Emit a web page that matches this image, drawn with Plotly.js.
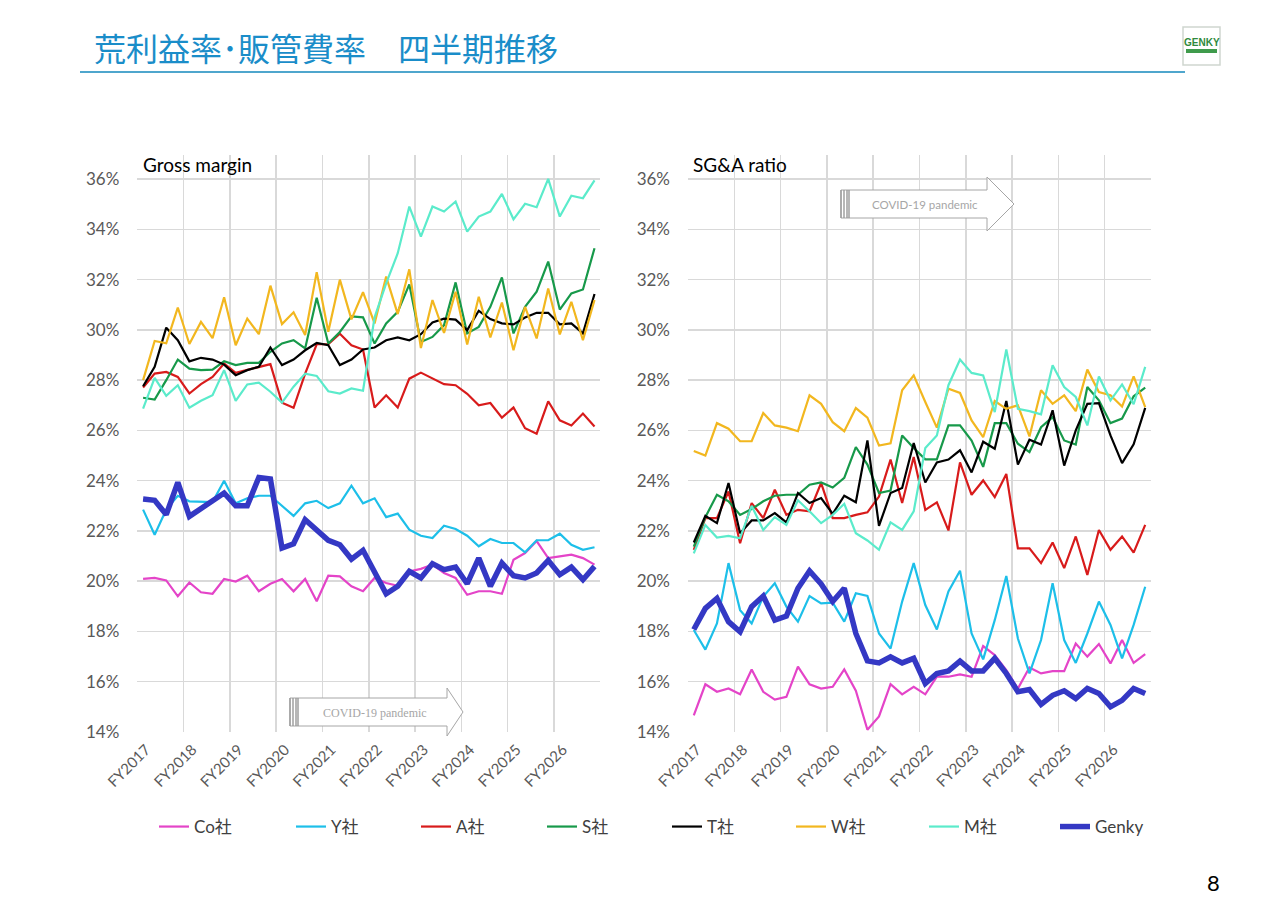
<!DOCTYPE html>
<html>
<head>
<meta charset="utf-8">
<script src="https://cdn.plot.ly/plotly-3.0.1.min.js"></script>
<style>
html, body { margin: 0; padding: 0; background: #ffffff; }
#chart { width: 1280px; height: 904px; }
</style>
</head>
<body>
<div id="chart"></div>
<script>
// fiscal years on the x axis, 4 quarters each
var fiscalYears = ['FY2017', 'FY2018', 'FY2019', 'FY2020', 'FY2021',
                   'FY2022', 'FY2023', 'FY2024', 'FY2025', 'FY2026'];
var quartersPerYear = 4;

var companies = ['Co社', 'Y社', 'A社', 'S社', 'T社', 'W社', 'M社', 'Genky'];

// Gross margin (%), quarterly
var gmCo    = [20.09, 20.13, 20.03, 19.40, 19.95, 19.56, 19.50, 20.09, 19.99, 20.22,
               19.60, 19.90, 20.09, 19.60, 20.09, 19.20, 20.22, 20.19, 19.80, 19.60,
               20.13, 19.93, 19.82, 20.39, 20.49, 20.66, 20.33, 20.13, 19.46, 19.60,
               19.60, 19.50, 20.85, 21.12, 21.60, 20.92, 20.99, 21.06, 20.92, 20.66];
var gmY     = [22.85, 21.85, 22.85, 23.40, 23.18, 23.18, 23.15, 24.00, 23.10, 23.30,
               23.40, 23.40, 22.98, 22.60, 23.10, 23.20, 22.91, 23.10, 23.80, 23.10,
               23.30, 22.55, 22.69, 22.05, 21.81, 21.72, 22.21, 22.08, 21.81, 21.39,
               21.68, 21.52, 21.52, 21.15, 21.63, 21.63, 21.89, 21.45, 21.25, 21.35];
var gmA     = [27.71, 28.26, 28.33, 28.13, 27.47, 27.84, 28.13, 28.66, 28.29, 28.40,
               28.53, 28.64, 27.10, 26.90, 28.26, 29.43, 29.43, 29.85, 29.39, 29.22,
               26.91, 27.40, 26.91, 28.06, 28.30, 28.06, 27.84, 27.80, 27.46, 27.00,
               27.09, 26.51, 26.91, 26.09, 25.87, 27.16, 26.40, 26.20, 26.67, 26.16];
var gmS     = [27.30, 27.23, 28.00, 28.82, 28.46, 28.40, 28.42, 28.75, 28.60, 28.69,
               28.69, 29.13, 29.46, 29.59, 29.26, 31.28, 29.46, 29.92, 30.54, 30.50,
               29.46, 30.26, 30.72, 31.81, 29.52, 29.72, 30.19, 31.89, 29.86, 30.12,
               30.92, 32.09, 29.86, 30.92, 31.52, 32.72, 30.81, 31.45, 31.61, 33.25];
var gmT     = [27.76, 28.53, 30.09, 29.59, 28.75, 28.89, 28.82, 28.62, 28.20, 28.40,
               28.53, 29.30, 28.60, 28.82, 29.19, 29.48, 29.39, 28.60, 28.82, 29.22,
               29.30, 29.59, 29.70, 29.59, 29.83, 30.30, 30.45, 30.41, 29.99, 30.76,
               30.43, 30.26, 30.22, 30.49, 30.68, 30.68, 30.22, 30.26, 29.86, 31.43];
var gmW     = [28.00, 29.56, 29.47, 30.89, 29.44, 30.32, 29.67, 31.30, 29.39, 30.45,
               29.83, 31.76, 30.23, 30.70, 29.80, 32.30, 29.93, 32.00, 30.42, 31.50,
               30.26, 32.12, 30.63, 32.41, 29.28, 31.19, 29.88, 31.52, 29.42, 31.32,
               29.70, 31.09, 29.19, 30.92, 29.66, 31.65, 29.82, 31.12, 29.59, 31.19];
var gmM     = [26.87, 28.09, 27.38, 27.80, 26.90, 27.18, 27.40, 28.40, 27.18, 27.83,
               27.90, 27.54, 27.11, 27.74, 28.26, 28.17, 27.56, 27.47, 27.67, 27.58,
               30.50, 31.85, 33.05, 34.91, 33.71, 34.91, 34.71, 35.11, 33.91, 34.51,
               34.71, 35.41, 34.40, 35.02, 34.88, 36.01, 34.51, 35.34, 35.24, 35.95];
var gmGenky = [23.27, 23.22, 22.65, 23.93, 22.58, 22.91, 23.24, 23.51, 23.00, 23.00,
               24.13, 24.07, 21.32, 21.49, 22.45, 22.05, 21.63, 21.45, 20.88, 21.23,
               20.33, 19.50, 19.80, 20.39, 20.13, 20.70, 20.46, 20.56, 19.90, 20.92,
               19.80, 20.72, 20.22, 20.13, 20.33, 20.83, 20.26, 20.56, 20.06, 20.59];

// SG&A ratio (%), quarterly
var sgaCo    = [14.66, 15.90, 15.60, 15.73, 15.50, 16.49, 15.60, 15.29, 15.40, 16.60,
                15.90, 15.73, 15.80, 16.49, 15.64, 14.09, 14.62, 15.90, 15.50, 15.80,
                15.50, 16.20, 16.20, 16.29, 16.20, 17.42, 17.06, 16.46, 15.73, 16.57,
                16.33, 16.42, 16.42, 17.52, 17.00, 17.50, 16.73, 17.66, 16.75, 17.10];
var sgaY     = [18.06, 17.28, 18.32, 20.72, 18.85, 18.32, 19.39, 19.92, 18.99, 18.39,
                19.41, 19.12, 19.15, 18.39, 19.52, 19.41, 17.92, 17.32, 19.19, 20.72,
                19.05, 18.08, 19.59, 20.42, 17.92, 16.89, 18.45, 20.21, 17.72, 16.33,
                17.66, 19.92, 17.66, 16.75, 17.92, 19.19, 18.26, 16.93, 18.26, 19.78];
var sgaA     = [21.25, 22.51, 22.51, 23.57, 21.51, 23.11, 22.51, 23.64, 22.64, 22.84,
                22.78, 23.91, 22.51, 22.51, 22.64, 22.74, 23.37, 24.84, 23.11, 24.94,
                22.84, 23.14, 22.02, 24.73, 23.44, 24.01, 23.35, 24.27, 21.31, 21.31,
                20.72, 21.54, 20.52, 21.78, 20.25, 22.04, 21.25, 21.78, 21.14, 22.24];
var sgaS     = [21.38, 22.55, 23.44, 23.18, 22.64, 22.87, 23.18, 23.40, 23.44, 23.44,
                23.84, 23.93, 23.73, 24.11, 25.34, 24.64, 23.51, 23.61, 25.80, 25.30,
                24.85, 24.85, 26.20, 26.20, 25.60, 24.55, 26.29, 26.29, 25.47, 25.14,
                26.13, 26.53, 25.60, 25.44, 27.73, 27.20, 26.29, 26.47, 27.36, 27.70];
var sgaT     = [21.54, 22.60, 22.31, 23.91, 21.91, 22.42, 22.42, 22.71, 22.34, 23.51,
                23.11, 23.31, 22.68, 23.40, 23.14, 25.60, 22.20, 23.51, 23.71, 25.50,
                23.93, 24.73, 24.84, 25.21, 24.33, 25.55, 25.27, 27.17, 24.64, 25.63,
                25.44, 26.80, 24.60, 26.00, 27.06, 27.09, 25.80, 24.70, 25.45, 26.90];
var sgaW     = [25.18, 25.00, 26.29, 26.07, 25.57, 25.57, 26.69, 26.20, 26.11, 25.97,
                27.40, 27.06, 26.33, 25.97, 26.89, 26.51, 25.40, 25.49, 27.60, 28.19,
                27.13, 26.11, 27.66, 27.49, 26.40, 25.73, 27.17, 26.86, 27.00, 25.76,
                27.60, 27.06, 27.40, 26.77, 28.42, 27.53, 27.40, 26.95, 28.15, 26.93];
var sgaM     = [21.11, 22.24, 21.74, 21.80, 21.71, 23.00, 22.04, 22.55, 22.24, 23.22,
                22.78, 22.31, 22.64, 23.08, 21.91, 21.62, 21.25, 22.34, 22.04, 22.78,
                25.30, 25.80, 27.80, 28.82, 28.29, 28.19, 26.73, 29.22, 26.86, 26.77,
                26.64, 28.59, 27.73, 27.33, 26.20, 28.15, 27.20, 27.83, 27.04, 28.53];
var sgaGenky = [18.08, 18.92, 19.32, 18.39, 17.99, 18.99, 19.41, 18.45, 18.61, 19.72,
                20.41, 19.89, 19.19, 19.72, 17.92, 16.83, 16.75, 16.99, 16.75, 16.93,
                15.93, 16.33, 16.43, 16.82, 16.43, 16.43, 16.93, 16.33, 15.60, 15.69,
                15.10, 15.46, 15.64, 15.33, 15.73, 15.53, 15.00, 15.26, 15.73, 15.53];

var grossMargin = [gmCo, gmY, gmA, gmS, gmT, gmW, gmM, gmGenky];
var sgaRatio = [sgaCo, sgaY, sgaA, sgaS, sgaT, sgaW, sgaM, sgaGenky];

var colors = ['#E444C8', '#1DBFE9', '#D81B1B', '#17994A', '#000000', '#F2B71F', '#5BEBCB', '#3438C4'];
var widths = [2.2, 2.2, 2.2, 2.2, 2.2, 2.2, 2.2, 5.5];

var W = 1280, H = 904;
function px(x) { return x / W; }
function py(y) { return 1 - y / H; }

var FONT = "Lato, 'Noto Sans CJK JP', sans-serif";
var GRID = '#d9d9d9';

// legend entries sit at these left edges (px), one legend per company
var legendLeft = [154, 291, 416, 542, 667, 791, 924, 1055];

// category positions: one per quarter
var qIndex = gmCo.map(function(v, i) { return i; });
var yearTicks = fiscalYears.map(function(v, i) { return i * quartersPerYear; });
var yearBounds = [];
for (var i = 0; i <= fiscalYears.length; i++) yearBounds.push(i * quartersPerYear - 0.5);

function legendId(k) { return k === 0 ? 'legend' : 'legend' + (k + 1); }

var traces = [];
companies.forEach(function(name, k) {
    traces.push({
        x: qIndex, y: grossMargin[k], xaxis: 'x', yaxis: 'y',
        mode: 'lines', name: name, legendgroup: name, legend: legendId(k),
        line: {color: colors[k], width: widths[k]},
        hoverinfo: 'skip'
    });
});
companies.forEach(function(name, k) {
    traces.push({
        x: qIndex, y: sgaRatio[k], xaxis: 'x2', yaxis: 'y2',
        mode: 'lines', name: name, legendgroup: name, showlegend: false,
        line: {color: colors[k], width: widths[k]},
        hoverinfo: 'skip'
    });
});

function xAxis(domain, anchor) {
    return {
        domain: domain, anchor: anchor,
        range: [-0.5, fiscalYears.length * quartersPerYear - 0.5],
        tickmode: 'array', tickvals: yearTicks, ticktext: fiscalYears,
        tickangle: -45, tickfont: {size: 15, color: '#595959'},
        showgrid: false, zeroline: false, showline: false, ticks: '',
        ticklabelshift: 3, ticklabelstandoff: 5,
        minor: {tickmode: 'array', tickvals: yearBounds, showgrid: true,
                gridcolor: GRID, gridwidth: 1.5, ticks: ''},
        fixedrange: true
    };
}

function yAxis(anchor) {
    return {
        domain: [py(732), py(155)], anchor: anchor,
        range: [14, 36.96], tick0: 14, dtick: 2, ticksuffix: '%',
        tickfont: {size: 17, color: '#595959'},
        showgrid: true, gridcolor: GRID, gridwidth: 1.5,
        zeroline: false, showline: false, ticks: '',
        ticklabelstandoff: 17, fixedrange: true
    };
}

function arrowPath(x0, x1, xt, yc, body, head) {
    var pts = [[x0, yc - body], [x1, yc - body], [x1, yc - head], [xt, yc],
               [x1, yc + head], [x1, yc + body], [x0, yc + body]];
    return 'M' + pts.map(function(p) { return px(p[0]) + ',' + py(p[1]); }).join('L') + 'Z';
}

function stripes(x0, yc, body) {
    var s = '';
    [0, 3, 6, 8].forEach(function(dx) {
        s += 'M' + px(x0 + dx) + ',' + py(yc - body) + 'L' + px(x0 + dx) + ',' + py(yc + body);
    });
    return s;
}

var shapes = [
    {type: 'line', xref: 'paper', yref: 'paper', x0: px(80), x1: px(1185), y0: py(72), y1: py(72),
     line: {color: '#4FA6CD', width: 2}},
    // COVID arrows
    {type: 'path', xref: 'paper', yref: 'paper', path: arrowPath(290, 447, 463, 712, 14, 24),
     fillcolor: '#ffffff', line: {color: '#a6a6a6', width: 1}},
    {type: 'path', xref: 'paper', yref: 'paper', path: stripes(290, 712, 14),
     line: {color: '#999999', width: 1.4}},
    {type: 'path', xref: 'paper', yref: 'paper', path: arrowPath(841, 987, 1014, 204, 14, 27),
     fillcolor: '#ffffff', line: {color: '#a6a6a6', width: 1}},
    {type: 'path', xref: 'paper', yref: 'paper', path: stripes(841, 204, 14),
     line: {color: '#999999', width: 1.4}},
    // logo box
    {type: 'rect', xref: 'paper', yref: 'paper', x0: px(1183), x1: px(1220), y0: py(65), y1: py(27),
     fillcolor: '#ffffff', line: {color: '#cfd6d0', width: 1.5}},
    {type: 'rect', xref: 'paper', yref: 'paper', x0: px(1186), x1: px(1217), y0: py(53), y1: py(49),
     fillcolor: '#3f9b4c', line: {width: 0}}
];

var annotations = [
    {xref: 'paper', yref: 'paper', x: px(92), y: py(47), xanchor: 'left', yanchor: 'middle',
     text: '荒利益率･販管費率　四半期推移', showarrow: false,
     font: {family: "'Noto Sans CJK JP', sans-serif", size: 32, color: '#1A8DC9'}},
    {xref: 'paper', yref: 'paper', x: px(141), y: py(165), xanchor: 'left', yanchor: 'middle',
     text: 'Gross margin', showarrow: false, font: {family: FONT, size: 19, color: '#000000'}},
    {xref: 'paper', yref: 'paper', x: px(691), y: py(165), xanchor: 'left', yanchor: 'middle',
     text: 'SG&A ratio', showarrow: false, font: {family: FONT, size: 19, color: '#000000'}},
    {xref: 'paper', yref: 'paper', x: px(375), y: py(713), xanchor: 'center', yanchor: 'middle',
     text: 'COVID-19 pandemic', showarrow: false,
     font: {family: "'Liberation Serif', serif", size: 12, color: '#a6a6a6'}},
    {xref: 'paper', yref: 'paper', x: px(925), y: py(204), xanchor: 'center', yanchor: 'middle',
     text: 'COVID-19 pandemic', showarrow: false, font: {family: FONT, size: 11.5, color: '#a6a6a6'}},
    {xref: 'paper', yref: 'paper', x: px(1201.5), y: py(42), xanchor: 'center', yanchor: 'middle',
     text: '<b>GENKY</b>', showarrow: false,
     font: {family: "'Liberation Sans Narrow', 'Liberation Sans', sans-serif", size: 10, color: '#2f8a3c'}},
    {xref: 'paper', yref: 'paper', x: px(1213), y: py(882), xanchor: 'center', yanchor: 'middle',
     text: '8', showarrow: false, font: {family: FONT, size: 22, color: '#000000'}}
];

var layout = {
    width: W, height: H, autosize: false,
    margin: {l: 0, r: 0, t: 0, b: 0, pad: 0},
    paper_bgcolor: '#ffffff', plot_bgcolor: '#ffffff',
    font: {family: FONT, color: '#404040'},
    showlegend: true,
    xaxis: xAxis([px(137.3), px(600.3)], 'y'),
    yaxis: yAxis('x'),
    xaxis2: xAxis([px(688), px(1151)], 'y2'),
    yaxis2: yAxis('x2'),
    shapes: shapes,
    annotations: annotations
};

legendLeft.forEach(function(left, k) {
    layout[legendId(k)] = {
        orientation: 'h', x: px(left), xanchor: 'left', y: py(827), yanchor: 'middle',
        font: {family: FONT, size: 17, color: '#404040'},
        bgcolor: 'rgba(0,0,0,0)'
    };
});

Plotly.newPlot('chart', traces, layout, {displayModeBar: false, staticPlot: true});
</script>
</body>
</html>
